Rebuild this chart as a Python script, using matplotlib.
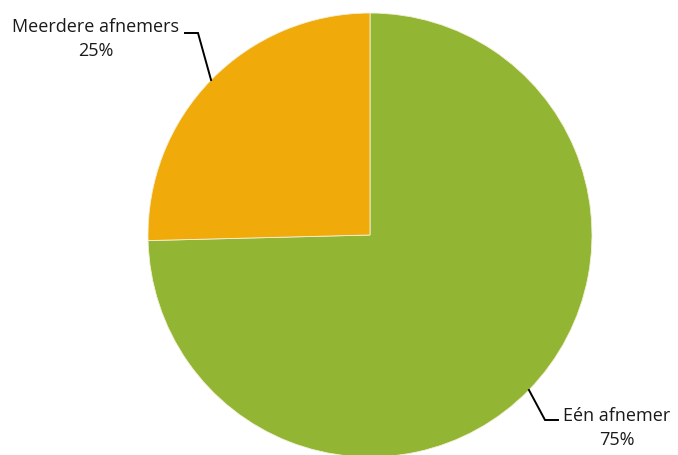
import numpy as np
import matplotlib.pyplot as plt

# slice data
labels = ['Eén afnemer', 'Meerdere afnemers']
values = [74.6, 25.4]
colors = ['#92B534', '#F0AB0A']

W, H = 678, 455
fig = plt.figure(figsize=(W / 100, H / 100), dpi=100)
ax = fig.add_axes([0, 0, 1, 1])

cx, cy, r = 370, H - 235, 222
wedges, _ = ax.pie(values, colors=colors, startangle=90, counterclock=False,
                   center=(cx, cy), radius=r, frame=True,
                   wedgeprops=dict(edgecolor='#f4f0d8', linewidth=0.6))
ax.set_xlim(0, W)
ax.set_ylim(0, H)
ax.set_aspect('equal')
ax.axis('off')

font = dict(family=['Open Sans', 'DejaVu Sans'], fontsize=13, color='#1a1a1a')

# leader lines + labels (text positions in pixel coords, y from top)
label_pos = [(617, 428), (96, 39)]
knees = [[(545, 420), (558, 420)], [(198, 33), (185, 33)]]
for w, lab, v, (tx, ty), knee in zip(wedges, labels, values, label_pos, knees):
    mid = np.deg2rad((w.theta1 + w.theta2) / 2)
    ex, ey = cx + r * np.cos(mid), cy + r * np.sin(mid)
    xs = [ex] + [k[0] for k in knee]
    ys = [ey] + [H - k[1] for k in knee]
    ax.plot(xs, ys, color='black', lw=1.4, solid_joinstyle='miter')
    ax.text(tx, H - ty, f'{lab}\n{v:.0f}%', ha='center', va='center',
            linespacing=1.45, **font)

fig.savefig('out.png', dpi=100)
